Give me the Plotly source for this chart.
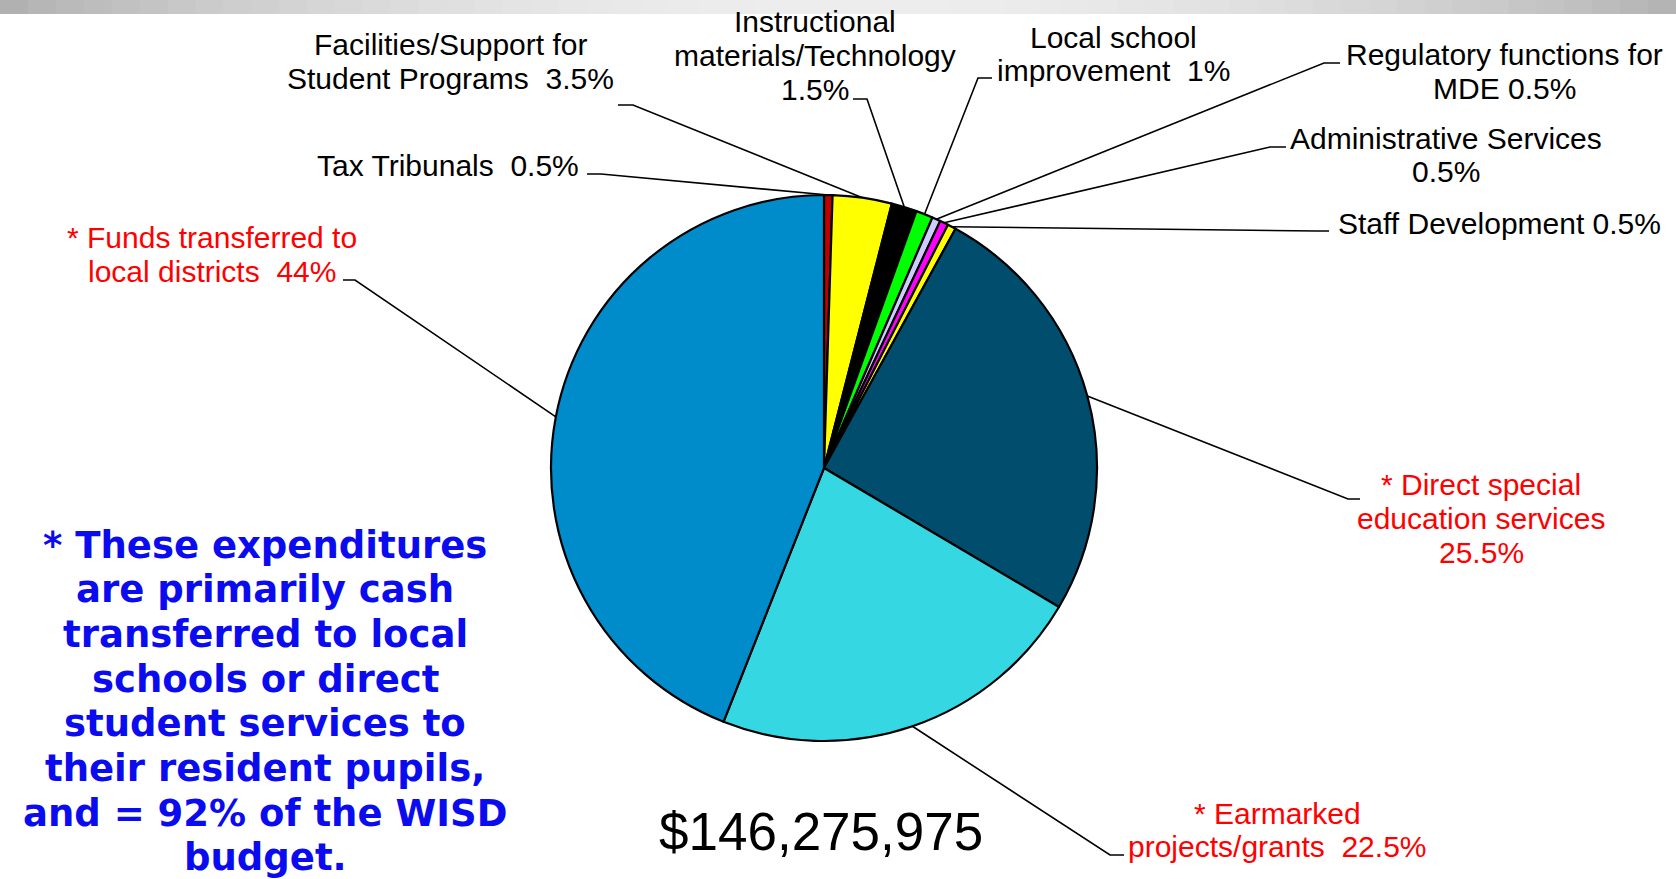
import math
import plotly.graph_objects as go

# ---------------- data ----------------
categories = [
    "Tax Tribunals",
    "Facilities/Support for Student Programs",
    "Instructional materials/Technology",
    "Local school improvement",
    "Regulatory functions for MDE",
    "Administrative Services",
    "Staff Development",
    "Direct special education services",
    "Earmarked projects/grants",
    "Funds transferred to local districts",
]
percent_values = [0.5, 3.5, 1.5, 1, 0.5, 0.5, 0.5, 25.5, 22.5, 44]
label_lines = [
    ["Tax Tribunals\u00a0 {p}"],
    ["Facilities/Support for", "Student Programs\u00a0 {p}"],
    ["Instructional", "materials/Technology", "{p}"],
    ["Local school", "improvement\u00a0 {p}"],
    ["Regulatory functions for", "MDE {p}"],
    ["Administrative Services", "{p}"],
    ["Staff Development {p}"],
    ["* Direct special", "education services", "{p}"],
    ["* Earmarked", "projects/grants\u00a0 {p}"],
    ["* Funds transferred to", "local districts\u00a0 {p}"],
]
total_budget = "$146,275,975"
note_lines = [
    "* These expenditures",
    "are primarily cash",
    "transferred to local",
    "schools or direct",
    "student services to",
    "their resident pupils,",
    "and = 92% of the WISD",
    "budget.",
]

# ---------------- style ----------------
slice_colors = ["#C00000", "#FFFF00", "#000000", "#00FF00", "#CCCCFF",
                "#FF00FF", "#FFFF00", "#004D6E", "#35D7E2", "#008BCB"]
label_colors = ["black"] * 7 + ["#FF0000"] * 3

W, H = 1676, 879
CX, CY, R = 824, 468, 273

# label layout in pixels: (text x, first line y, xanchor, near-text end, elbow)
label_layout = [
    (581, 166, "right", (587, 174), (601, 174)),
    (450, 45, "center", (618, 105), (633, 105)),
    (815, 22, "center", (853, 99), (867, 99)),
    (1113, 37, "center", (992, 78), (978, 78)),
    (1504, 55, "center", (1340, 63), (1324, 63)),
    (1446, 138, "center", (1286, 147), (1270, 147)),
    (1336, 224, "left", (1329, 231), (1317, 231)),
    (1481, 485, "center", (1360, 499), (1348, 499)),
    (1277, 813, "center", (1124, 855), (1110, 855)),
    (212, 238, "center", (343, 280), (355, 280)),
]
LINE_GAP = 33.5
LABEL_FONT = dict(family="Liberation Sans, Arial, sans-serif", size=30)


def px(x, y):
    return x / W, 1 - y / H


fig = go.Figure()
fig.add_trace(go.Pie(
    labels=categories,
    values=percent_values,
    sort=False,
    direction="clockwise",
    rotation=0,
    textinfo="none",
    hoverinfo="label+percent",
    marker=dict(colors=slice_colors, line=dict(color="black", width=2.2)),
    domain=dict(x=[(CX - R) / W, (CX + R) / W], y=[1 - (CY + R) / H, 1 - (CY - R) / H]),
    showlegend=False,
))

shapes = []
annotations = []

# header gradient band
n_band = 60
for i in range(n_band):
    t = (i + 0.5) / n_band
    g = int(168 + 70 * math.sin(math.pi * min(1.0, t * 0.95 + 0.02)) ** 0.8)
    shapes.append(dict(type="rect", xref="paper", yref="paper",
                       x0=i / n_band, x1=(i + 1) / n_band + 0.002,
                       y0=1 - 14 / H, y1=1, line=dict(width=0),
                       fillcolor=f"rgb({g},{g},{g})", layer="below"))

total = sum(percent_values)
cum = 0.0
for i, v in enumerate(percent_values):
    mid = (cum + v / 2) / total
    cum += v
    ang = 2 * math.pi * mid
    ex = CX + R * math.sin(ang)
    ey = CY - R * math.cos(ang)
    tx, ty, xa, near, elbow = label_layout[i]
    p0 = px(ex, ey)
    p1 = px(*elbow)
    p2 = px(*near)
    shapes.append(dict(type="path", xref="paper", yref="paper",
                       path=f"M {p0[0]},{p0[1]} L {p1[0]},{p1[1]} L {p2[0]},{p2[1]}",
                       line=dict(color="black", width=1.6)))
    pct = f"{v:g}%"
    for j, line in enumerate(label_lines[i]):
        ax, ay = px(tx, ty + j * LINE_GAP)
        annotations.append(dict(x=ax, y=ay, xref="paper", yref="paper",
                                text=line.format(p=pct), showarrow=False,
                                xanchor=xa, yanchor="middle",
                                font=dict(LABEL_FONT, color=label_colors[i])))

# total budget
bx, by = px(821, 831)
annotations.append(dict(x=bx, y=by, xref="paper", yref="paper", text=total_budget,
                        showarrow=False, xanchor="center", yanchor="middle",
                        font=dict(family="Liberation Sans, Arial, sans-serif", size=53, color="black")))

# explanatory note
for j, line in enumerate(note_lines):
    nx, ny = px(265, 545 + j * 44.7)
    annotations.append(dict(x=nx, y=ny, xref="paper", yref="paper", text=f"<b>{line}</b>",
                            showarrow=False, xanchor="center", yanchor="middle",
                            font=dict(family="DejaVu Sans, Verdana, sans-serif", size=37, color="#0B0BF0")))

fig.update_layout(
    width=W, height=H,
    margin=dict(l=0, r=0, t=0, b=0),
    paper_bgcolor="white",
    plot_bgcolor="white",
    shapes=shapes,
    annotations=annotations,
    showlegend=False,
)

fig.write_html("out.html", config={"displayModeBar": False},
               post_script="document.body.style.margin='0';document.body.style.overflow='hidden';")
